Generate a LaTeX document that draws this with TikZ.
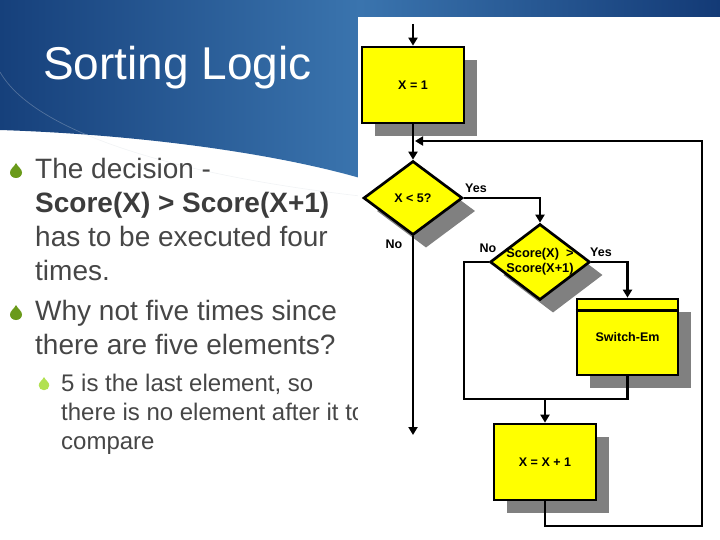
\documentclass[tikz,border=0pt]{standalone}
\usepackage{fontspec}
\setmainfont{Liberation Sans}
\usetikzlibrary{shapes.geometric,arrows.meta,shadows}
\definecolor{bannerdark}{HTML}{16407B}
\definecolor{bannerright}{HTML}{133A76}
\definecolor{bannermid}{HTML}{3A74AE}
\definecolor{boxyellow}{HTML}{FFFF00}
\definecolor{shadowgray}{HTML}{808080}
\definecolor{textgray}{HTML}{464646}
\definecolor{boldgray}{HTML}{3C3C3C}
\definecolor{bulletgreen}{HTML}{6A9A1A}
\definecolor{subgreen}{HTML}{B2E152}
\definecolor{arcgray}{HTML}{D4D9E0}
\begin{document}
\begin{tikzpicture}[x=1pt,y=-1pt,line join=miter,
  fl/.style={draw=black,line width=2.7pt},
  arr/.style={fl,-{Triangle[width=9pt,length=8pt]}},
  shad/.style={drop shadow={shadow xshift=13pt,shadow yshift=-13pt,fill=shadowgray,opacity=1}},
  proc/.style={draw=black,line width=2.7pt,fill=boxyellow,minimum width=102pt,minimum height=76pt,inner sep=0pt,font=\fontsize{12.5}{14}\selectfont\bfseries,shad},
  dec/.style={diamond,draw=black,line width=2.7pt,fill=boxyellow,inner sep=0pt,shad},
  lbl/.style={inner sep=0pt,font=\fontsize{12.5}{14}\selectfont\bfseries},
  maintext/.style={anchor=base west,inner sep=0pt,text=textgray,font=\fontsize{28}{34}\selectfont},
  subtext/.style={anchor=base west,inner sep=0pt,text=textgray,font=\fontsize{24}{29}\selectfont},
  drop/.pic={\fill (0,0) .. controls (2,4) and (6,6) .. (6,9.5) .. controls (6,12.8) and (3.3,15) .. (0,15) .. controls (-3.3,15) and (-6,12.8) .. (-6,9.5) .. controls (-6,6) and (-2,4) .. cycle;}]
\useasboundingbox (0,0) rectangle (720,540);
% banner
\shade[left color=bannerdark,right color=bannerright,middle color=bannermid]
  (0,0) -- (720,0) -- (720,260) .. controls (560,215) and (440,195) .. (360,178)
  .. controls (280,155) and (150,135) .. (0,130) -- cycle;
\draw[arcgray,opacity=0.3,line width=0.7pt] (0,72) .. controls (30,125) and (150,172) .. (360,196);
\node[anchor=base west,inner sep=0pt,text=white,font=\fontsize{46}{50}\selectfont] (title) at (43,80) {Sorting Logic};
% bullets
\pic[bulletgreen] at (16,163) {drop};
\pic[bulletgreen] at (16,305) {drop};
\pic[subgreen,scale=0.88] at (44,377) {drop};
\node[maintext] (t1) at (35,179) {The decision -};
\node[maintext,text=boldgray,font=\fontsize{28}{34}\selectfont\bfseries] (t2) at (35,213) {Score(X) > Score(X+1)};
\node[maintext] (t3) at (35,246) {has to be executed four};
\node[maintext] (t4) at (35,280) {times.};
\node[maintext] (t5) at (35,320) {Why not five times since};
\node[maintext] (t6) at (35,354) {there are five elements?};
\node[subtext] (s1) at (61,391) {5 is the last element, so};
\node[subtext] (s2) at (61,420) {there is no element after it to};
\node[subtext] (s3) at (61,449) {compare};
% picture area
\fill[white] (358,17) rectangle (720,540);
% flowchart
\coordinate (start) at (413,24);
\node[proc] (b1) at (413,85) {X = 1};
\node[dec,minimum width=99pt,minimum height=74pt,label={[lbl]center:X < 5?}] (d1) at (413,198) {};
\node[dec,minimum width=100pt,minimum height=76pt,label={[lbl,align=center,font=\fontsize{12.8}{15}\selectfont\bfseries]center:Score(X)~~>\\Score(X+1)}] (d2) at (540,262) {};
\node[proc,minimum width=101pt] (sw) at (627.5,337) {Switch-Em};
\draw[fl] ([yshift=-13pt]sw.north west) -- ([yshift=-13pt]sw.north east);
\node[proc] (b3) at (545,462) {X = X + 1};
\coordinate (m1) at (415,141);
\coordinate (nd) at (413,435);
\coordinate (jl) at (464,399);
\coordinate (j) at (545,399);
\coordinate (lr) at (702,526);
\draw[arr] (start) -- (b1.north);
\draw[arr] (b1.south) -- (d1.north);
\draw[arr] (d1.east) -| (d2.north);
\draw[arr] (d1.south) -- (nd);
\draw[arr] (d2.east) -| (sw.north);
\draw[fl] (d2.west) -| (jl) -- (sw.south |- jl) -- (sw.south);
\draw[arr] (j) -- (b3.north);
\draw[arr] (b3.south) -- (b3.south |- lr) -- (lr) -- (lr |- m1) -- (m1);
\node[lbl] (yes1) at (476,188) {Yes};
\node[lbl] (no1) at (394,244) {No};
\node[lbl] (no2) at (488,248) {No};
\node[lbl] (yes2) at (601,252) {Yes};
\end{tikzpicture}
\end{document}
